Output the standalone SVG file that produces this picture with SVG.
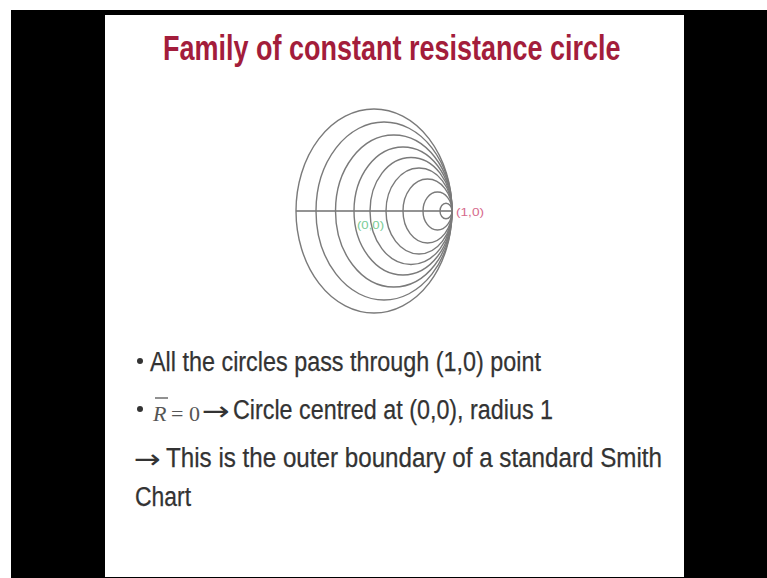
<svg xmlns="http://www.w3.org/2000/svg" width="767" height="578" viewBox="0 0 767 578">
  <style>
    .title { font-family: "Liberation Sans", Arial, sans-serif; font-weight: bold; font-size: 27px; fill: #a31d3b; }
    .body { font-family: "Liberation Sans", Arial, sans-serif; font-size: 27px; fill: #333333; stroke: #333333; stroke-width: 0.25; }
    .arrow { font-family: "DejaVu Sans", sans-serif; font-size: 26px; fill: #333333; }
    .math { font-family: "Liberation Serif", "Times New Roman", serif; font-size: 22px; fill: #555555; }
    .rc { fill: none; stroke: #7a7a7a; stroke-width: 1.4; }
    .axis { stroke: #6f6f6f; stroke-width: 1.4; }
    .lbl { font-family: "Liberation Sans", Arial, sans-serif; font-size: 10px; }
  </style>
  <g id="background">
    <rect x="0" y="0" width="767" height="578" fill="#ffffff"/>
    <rect x="11" y="10" width="756" height="568" fill="#000000"/>
    <rect x="105" y="15" width="579" height="562" fill="#ffffff"/>
  </g>
  <g id="title">
    <text class="title" transform="translate(163,60) scale(1,1.33)" x="0" y="0">Family of constant resistance circle</text>
  </g>
  <g id="resistance-circles">
    <line class="axis" x1="296" y1="211" x2="453" y2="211"/>
    <ellipse class="rc" cx="374" cy="211" rx="78" ry="102"/>
    <ellipse class="rc" cx="384" cy="211" rx="68" ry="89"/>
    <ellipse class="rc" cx="393.75" cy="211" rx="58.25" ry="76"/>
    <ellipse class="rc" cx="403" cy="211" rx="49" ry="64"/>
    <ellipse class="rc" cx="411" cy="211" rx="41" ry="53.5"/>
    <ellipse class="rc" cx="419" cy="211" rx="33" ry="43"/>
    <ellipse class="rc" cx="427.5" cy="211" rx="24.5" ry="32"/>
    <ellipse class="rc" cx="437.5" cy="211" rx="14.5" ry="19"/>
    <ellipse class="rc" cx="446" cy="211" rx="6" ry="7.8"/>
  </g>
  <g id="point-labels">
    <text class="lbl" x="357" y="229" fill="#79cc95" textLength="27" lengthAdjust="spacingAndGlyphs">(0,0)</text>
    <text class="lbl" x="456" y="216" fill="#d66a8c" font-size="11" textLength="28" lengthAdjust="spacingAndGlyphs">(1,0)</text>
  </g>
  <g id="bullets">
    <circle cx="140" cy="361" r="3" fill="#333333"/>
    <text class="body" x="150" y="371" textLength="391" lengthAdjust="spacingAndGlyphs">All the circles pass through (1,0) point</text>

    <circle cx="140" cy="409" r="3" fill="#333333"/>
    <text class="math" x="153" y="421" font-style="italic">R</text>
    <line x1="155" y1="398" x2="168" y2="398" stroke="#555555" stroke-width="1.3"/>
    <text class="math" x="171" y="421">= 0</text>
    <text class="arrow" x="202" y="420" textLength="28" lengthAdjust="spacingAndGlyphs">→</text>
    <text class="body" x="233" y="419" textLength="320" lengthAdjust="spacingAndGlyphs">Circle centred at (0,0), radius 1</text>

    <text class="arrow" x="134" y="468" textLength="27" lengthAdjust="spacingAndGlyphs">→</text>
    <text class="body" x="166" y="467" textLength="496" lengthAdjust="spacingAndGlyphs">This is the outer boundary of a standard Smith</text>
    <text class="body" x="135" y="506" textLength="56" lengthAdjust="spacingAndGlyphs">Chart</text>
  </g>
</svg>
